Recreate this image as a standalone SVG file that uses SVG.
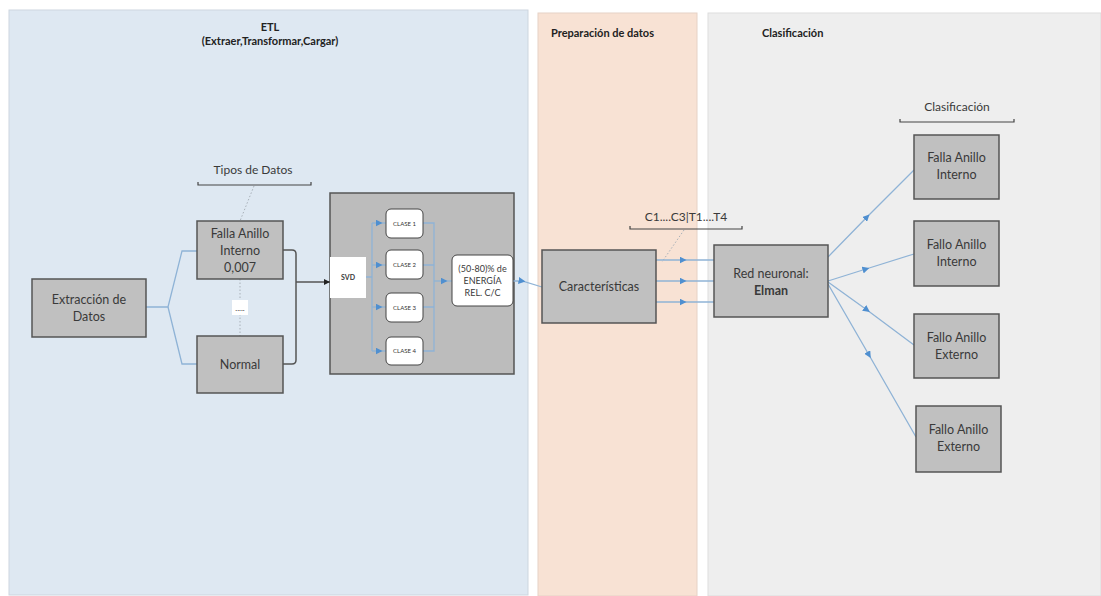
<svg xmlns="http://www.w3.org/2000/svg" width="1101" height="596" viewBox="0 0 1101 596">
  <style>
    text { font-family: Lato, "Open Sans", "Liberation Sans", sans-serif; fill: #3a3a3a; }
    .title { font-size: 11px; font-weight: bold; fill: #222; }
    .node { fill: #c0c0c0; stroke: #555; stroke-width: 1.5; }
    .lbl { font-size: 12.5px; text-anchor: middle; }
    .small { font-size: 6px; text-anchor: middle; fill: #333; }
    .wire { fill: none; stroke: #8fb3d6; stroke-width: 1.3; }
    .dark { fill: none; stroke: #555; stroke-width: 1.5; }
    .brace { fill: none; stroke: #444; stroke-width: 1.2; }
    .dots { fill: none; stroke: #a8b0b8; stroke-width: 1; stroke-dasharray: 1.5 2; }
  </style>
  <defs>
    <marker id="blueArrow" viewBox="0 0 10 10" refX="5" refY="5" markerWidth="7" markerHeight="7" orient="auto" markerUnits="userSpaceOnUse">
      <path d="M0,0 L10,5 L0,10 z" fill="#4f8fd0"/>
    </marker>
    <marker id="darkArrow" viewBox="0 0 10 10" refX="10" refY="5" markerWidth="6" markerHeight="6" orient="auto" markerUnits="userSpaceOnUse">
      <path d="M0,0 L10,5 L0,10 z" fill="#222"/>
    </marker>
  </defs>

  <rect width="1101" height="596" fill="#ffffff"/>

  <!-- swimlane panels -->
  <g id="lane-etl">
    <rect x="9" y="10" width="519" height="585" fill="#dee8f2" stroke="#cdd6df" stroke-width="1"/>
    <text class="title" x="270" y="31" text-anchor="middle">ETL</text>
    <text class="title" x="270" y="45" text-anchor="middle">(Extraer,Transformar,Cargar)</text>
  </g>
  <g id="lane-prep">
    <rect x="538" y="13" width="159" height="583" fill="#f8e2d4" stroke="#e6d2c6" stroke-width="1"/>
    <text class="title" x="551" y="37">Preparación de datos</text>
  </g>
  <g id="lane-clasif">
    <rect x="708" y="13" width="393" height="583" fill="#eeeeee" stroke="#dddddd" stroke-width="1"/>
    <text class="title" x="762" y="37">Clasificación</text>
  </g>

  <!-- SVD processing container (drawn under its inner connectors) -->
  <g id="svd-block">
    <rect x="330" y="193" width="184" height="181" fill="#bcbcbc" stroke="#555" stroke-width="1.5"/>
  </g>

  <!-- annotation braces -->
  <g id="ann-tipos">
    <text x="253" y="174" font-size="12" text-anchor="middle">Tipos de Datos</text>
    <path class="brace" d="M198,182 V185 H311 V182"/>
    <path class="dots" d="M254,186 L240,221"/>
    <path class="dots" d="M240,279 V336"/>
  </g>
  <g id="ann-cols">
    <text x="686" y="221" font-size="12" text-anchor="middle">C1....C3|T1....T4</text>
    <path class="brace" d="M630,226 V229 H742 V226"/>
    <path class="dots" d="M684,230 L662,262"/>
  </g>
  <g id="ann-clasif">
    <text x="957" y="111" font-size="12" text-anchor="middle">Clasificación</text>
    <path class="brace" d="M900,119 V122 H1014 V119"/>
    <path class="dots" d="M956,186 V199"/>
  </g>

  <!-- connectors -->
  <g id="connectors">
    <path class="wire" d="M146,307 H168 L182,251 H197"/>
    <path class="wire" d="M168,307 L182,364 H197"/>
    <path class="dark" d="M283,250 H292 Q296,250 296,254 V360 Q296,364 292,364 H283"/>
    <path class="dark" d="M296,282 H330" marker-end="url(#darkArrow)"/>
    <!-- SVD fan-out -->
    <path class="wire" d="M366,277 H372 M372,223 V351"/>
    <path class="wire" d="M372,223 H379 L386,223" marker-mid="url(#blueArrow)"/>
    <path class="wire" d="M372,265 H379 L386,265" marker-mid="url(#blueArrow)"/>
    <path class="wire" d="M372,307 H379 L386,307" marker-mid="url(#blueArrow)"/>
    <path class="wire" d="M372,351 H379 L386,351" marker-mid="url(#blueArrow)"/>
    <!-- merge into energy -->
    <path class="wire" d="M423,223 H434 V351 H423 M423,265 H434 M423,307 H434"/>
    <path class="wire" d="M434,281 L444,281 L452,281" marker-mid="url(#blueArrow)"/>
    <path class="wire" d="M513,281 L522,281 L542,287" marker-mid="url(#blueArrow)"/>
    <!-- features to network -->
    <path class="wire" d="M656,260 L683,260 L714,260" marker-mid="url(#blueArrow)"/>
    <path class="wire" d="M656,281 L683,281 L714,281" marker-mid="url(#blueArrow)"/>
    <path class="wire" d="M656,302 L683,302 L714,302" marker-mid="url(#blueArrow)"/>
    <!-- network to classes -->
    <path class="wire" d="M828,257 L867,217 L914,170" marker-mid="url(#blueArrow)"/>
    <path class="wire" d="M828,281 L866,269 L914,254" marker-mid="url(#blueArrow)"/>
    <path class="wire" d="M828,282 L867,310 L914,345" marker-mid="url(#blueArrow)"/>
    <path class="wire" d="M828,284 L869,355 L916,437" marker-mid="url(#blueArrow)"/>
  </g>

  <!-- nodes -->
  <g id="extraccion">
    <rect class="node" x="32" y="279" width="114" height="58"/>
    <text class="lbl" x="89" y="304">Extracción de</text>
    <text class="lbl" x="89" y="321">Datos</text>
  </g>
  <g id="falla-interno-007">
    <rect class="node" x="197" y="221" width="86" height="58"/>
    <text class="lbl" x="240" y="238">Falla Anillo</text>
    <text class="lbl" x="240" y="255">Interno</text>
    <text class="lbl" x="240" y="272">0,007</text>
  </g>
  <g id="ellipsis">
    <rect x="232" y="300" width="16" height="15" fill="#ffffff"/>
    <text x="240" y="311" font-size="8" text-anchor="middle">.....</text>
  </g>
  <g id="normal">
    <rect class="node" x="197" y="336" width="86" height="57"/>
    <text class="lbl" x="240" y="369">Normal</text>
  </g>
  <g id="svd">
    <rect x="330" y="257" width="36" height="41" fill="#ffffff"/>
    <text x="348" y="280" font-size="7" font-weight="bold" text-anchor="middle" fill="#222">SVD</text>
  </g>
  <g id="clase1">
    <rect x="386" y="209" width="37" height="29" rx="5" fill="#ffffff" stroke="#444" stroke-width="1"/>
    <text class="small" x="404.5" y="225.5">CLASE 1</text>
  </g>
  <g id="clase2">
    <rect x="386" y="250" width="37" height="29" rx="5" fill="#ffffff" stroke="#444" stroke-width="1"/>
    <text class="small" x="404.5" y="266.5">CLASE 2</text>
  </g>
  <g id="clase3">
    <rect x="386" y="293" width="37" height="29" rx="5" fill="#ffffff" stroke="#444" stroke-width="1"/>
    <text class="small" x="404.5" y="309.5">CLASE 3</text>
  </g>
  <g id="clase4">
    <rect x="386" y="337" width="37" height="28" rx="5" fill="#ffffff" stroke="#444" stroke-width="1"/>
    <text class="small" x="404.5" y="353">CLASE 4</text>
  </g>
  <g id="energia">
    <rect x="452" y="255" width="61" height="51" rx="5" fill="#ffffff" stroke="#444" stroke-width="1"/>
    <text x="482.5" y="272" font-size="9" text-anchor="middle">(50-80)% de</text>
    <text x="482.5" y="284" font-size="9" text-anchor="middle">ENERGÍA</text>
    <text x="482.5" y="296" font-size="9" text-anchor="middle">REL. C/C</text>
  </g>
  <g id="caracteristicas">
    <rect class="node" x="542" y="250" width="114" height="73"/>
    <text class="lbl" x="599" y="291">Características</text>
  </g>
  <g id="red-neuronal">
    <rect class="node" x="714" y="245" width="114" height="72"/>
    <text class="lbl" x="771" y="278">Red neuronal:</text>
    <text class="lbl" x="771" y="295" font-weight="bold" fill="#222">Elman</text>
  </g>
  <g id="out-falla-interno">
    <rect class="node" x="914" y="135" width="85" height="64"/>
    <text class="lbl" x="956.5" y="162">Falla Anillo</text>
    <text class="lbl" x="956.5" y="179">Interno</text>
  </g>
  <g id="out-fallo-interno">
    <rect class="node" x="914" y="221" width="85" height="65"/>
    <text class="lbl" x="956.5" y="249">Fallo Anillo</text>
    <text class="lbl" x="956.5" y="266">Interno</text>
  </g>
  <g id="out-fallo-externo-1">
    <rect class="node" x="914" y="314" width="85" height="64"/>
    <text class="lbl" x="956.5" y="342">Fallo Anillo</text>
    <text class="lbl" x="956.5" y="359">Externo</text>
  </g>
  <g id="out-fallo-externo-2">
    <rect class="node" x="916" y="406" width="85" height="66"/>
    <text class="lbl" x="958.5" y="434">Fallo Anillo</text>
    <text class="lbl" x="958.5" y="451">Externo</text>
  </g>
</svg>
